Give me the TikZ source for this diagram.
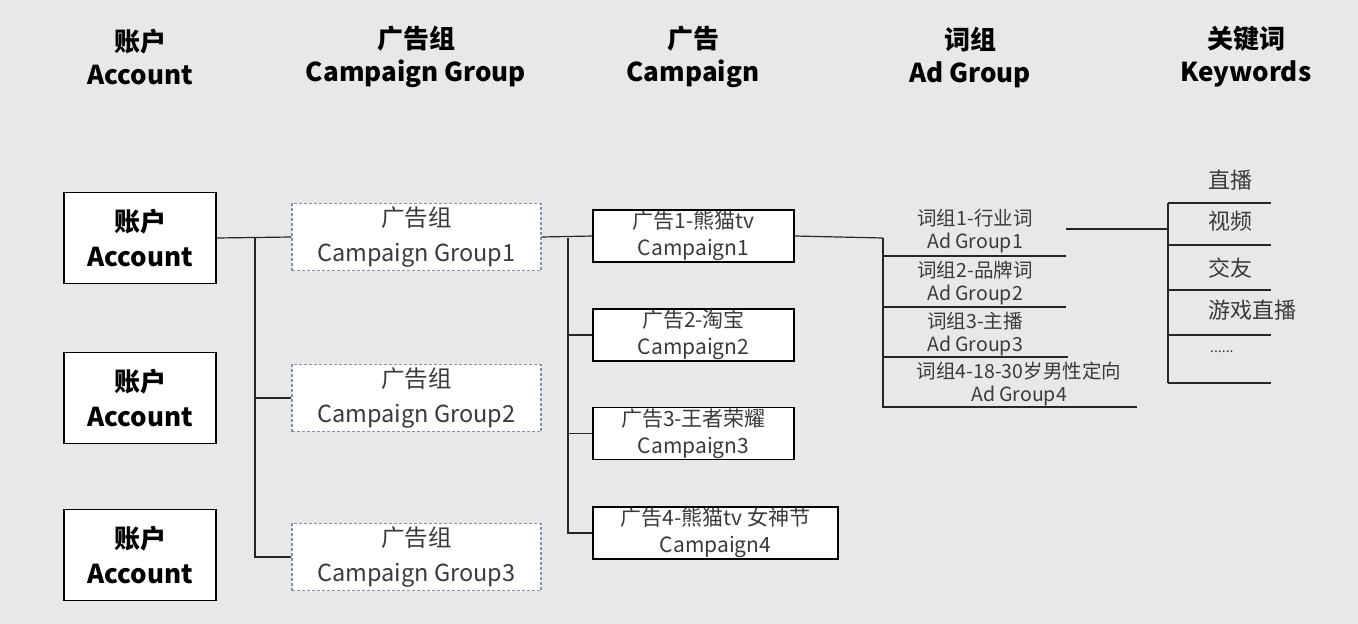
\documentclass[tikz,border=0pt]{standalone}
\usepackage{fontspec}
\setmainfont{Noto Sans CJK SC}
\usepackage{tikz}
\usetikzlibrary{positioning}
\definecolor{bggray}{HTML}{E8E8E8}
\definecolor{txtgray}{HTML}{3A3A3A}
\definecolor{dashblue}{HTML}{7F93AE}
\tikzset{
  head/.style={font=\fontsize{26}{33}\selectfont\bfseries,align=center,text=black},
  acctbox/.style={draw=black,fill=white,line width=1.3pt,minimum width=152pt,minimum height=91pt,
    font=\fontsize{26}{35}\selectfont\bfseries,align=center,text=black},
  groupbox/.style={draw=dashblue,fill=white,dash pattern=on 3pt off 2pt,line width=1.1pt,
    minimum width=249pt,minimum height=67pt,font=\fontsize{23.5}{35}\selectfont,align=center,text=txtgray},
  campbox/.style={draw=black,fill=white,line width=1.1pt,minimum width=201pt,minimum height=52pt,
    font=\fontsize{21}{27}\selectfont,align=center,text=txtgray,inner sep=0pt},
  adlabel/.style={font=\fontsize{19.5}{23}\selectfont,align=center,text=txtgray},
  kwlabel/.style={font=\fontsize{22}{24}\selectfont,anchor=west,text=txtgray,inner sep=0pt},
  link/.style={draw=black!85,line width=1.2pt}
}
\begin{document}
\begin{tikzpicture}[x=1pt,y=-1pt]
  \fill[bggray] (0,0) rectangle (1358,624);
  \useasboundingbox (0,0) rectangle (1358,624);
  % column headings
  \node[head] (h1) at (140,57) {账户\\Account};
  \node[head] (h2) at (416,57) {广告组\\Campaign Group};
  \node[head] (h3) at (693,57) {广告\\Campaign};
  \node[head] (h4) at (970,57) {词组\\Ad Group};
  \node[head] (h5) at (1246,57) {关键词\\Keywords};
  % accounts
  \node[acctbox] (a1) at (140,238) {账户\\Account};
  \node[acctbox] (a2) at (140,398) {账户\\Account};
  \node[acctbox] (a3) at (140,555) {账户\\Account};
  % campaign groups
  \node[groupbox] (g1) at (416.5,237) {广告组\\Campaign Group1};
  \node[groupbox] (g2) at (416.5,398) {广告组\\Campaign Group2};
  \node[groupbox] (g3) at (416.5,557) {广告组\\Campaign Group3};
  % campaigns
  \node[campbox] (c1) at (693.5,236) {广告1-熊猫tv\\Campaign1};
  \node[campbox] (c2) at (693.5,335) {广告2-淘宝\\Campaign2};
  \node[campbox] (c3) at (693.5,433.5) {广告3-王者荣耀\\Campaign3};
  \node[campbox,minimum width=245pt] (c4) at (715.5,533) {广告4-熊猫tv 女神节\\Campaign4};
  % account -> groups
  \coordinate (s1) at (255,238);
  \draw[link] (a1.east) -- (g1.west);
  \draw[link] (s1) |- (g2.west);
  \draw[link] (s1) |- (g3.west);
  % group -> campaigns
  \coordinate (s2) at (568,238);
  \draw[link] (g1.east) -- (c1.west);
  \draw[link] (s2) |- (c2.west);
  \draw[link] (s2) |- (c3.west);
  \draw[link] (s2) |- (c4.west);
  % campaign -> ad groups
  \coordinate (s3) at (883,238);
  \coordinate (e1) at (1066,256);
  \coordinate (e2) at (1066,307);
  \coordinate (e3) at (1068,357);
  \coordinate (e4) at (1137,407);
  \draw[link] (c1.east) -- (s3);
  \draw[link] (s3) |- (e1);
  \draw[link] (s3) |- (e2);
  \draw[link] (s3) |- (e3);
  \draw[link] (s3) |- (e4);
  \node[adlabel] (ad1) at (975,231) {词组1-行业词\\Ad Group1};
  \node[adlabel] (ad2) at (975,283) {词组2-品牌词\\Ad Group2};
  \node[adlabel] (ad3) at (975,334) {词组3-主播\\Ad Group3};
  \node[adlabel] (ad4) at (1019,384) {词组4-18-30岁男性定向\\Ad Group4};
  % ad group -> keywords
  \coordinate (k0) at (1066,229);
  \coordinate (s4) at (1168,229);
  \draw[link] (k0) -- (s4);
  \draw[link] (1168,203) coordinate (kt) -- (1168,383) coordinate (kb);
  \foreach \y in {203,245,290,335,383}
    \draw[link] (1168,\y) -- (1271,\y);
  \node[kwlabel] (kw1) at (1208,180) {直播};
  \node[kwlabel] (kw2) at (1208,221) {视频};
  \node[kwlabel] (kw3) at (1208,268) {交友};
  \node[kwlabel] (kw4) at (1208,310) {游戏直播};
  \node[kwlabel,font=\fontsize{14}{16}\selectfont] (kw5) at (1210,352) {......};
\end{tikzpicture}
\end{document}
